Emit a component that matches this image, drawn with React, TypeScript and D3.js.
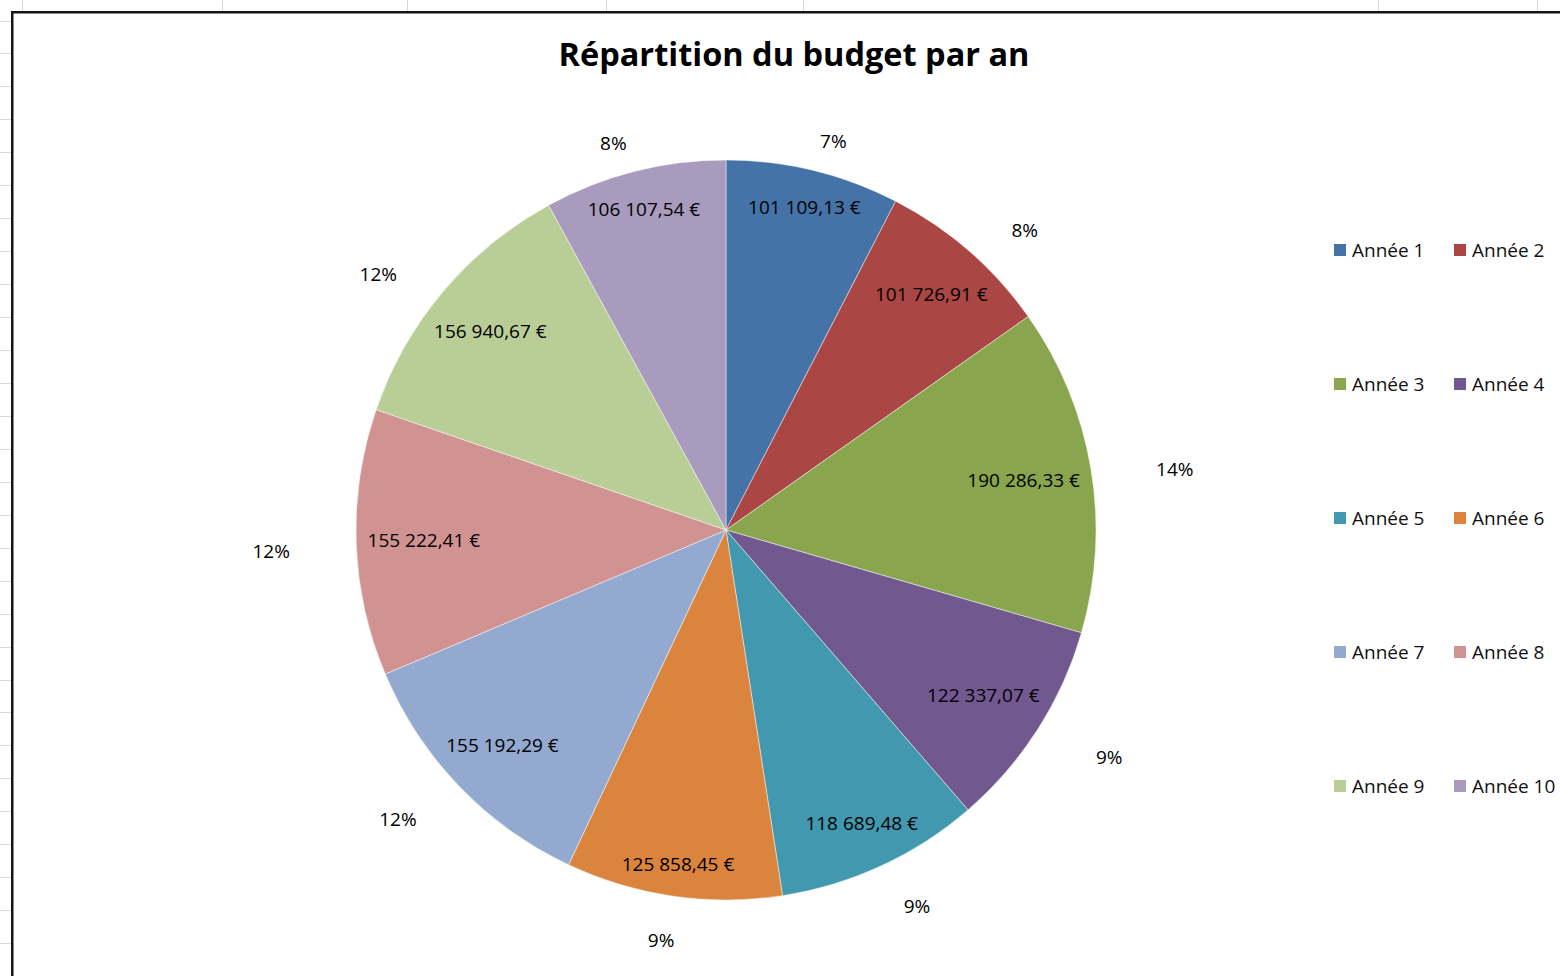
import * as d3 from "d3";
import { useMemo } from "react";

const WIDTH = 1560;
const HEIGHT = 976;

// data
const years = ["Année 1", "Année 2", "Année 3", "Année 4", "Année 5", "Année 6", "Année 7", "Année 8", "Année 9", "Année 10"];
const budget = [101109.13, 101726.91, 190286.33, 122337.07, 118689.48, 125858.45, 155192.29, 155222.41, 156940.67, 106107.54];
const pctLabels = ["7%", "8%", "14%", "9%", "9%", "9%", "12%", "12%", "12%", "8%"];
const colors = ["#4572A7", "#AA4643", "#89A54E", "#71588F", "#4198AF", "#DB843D", "#93A9CF", "#D19392", "#B9CD96", "#A99BBD"];
const title = "Répartition du budget par an";

// spreadsheet grid behind the chart frame
const colLines = [22.5, 222.5, 407.5, 606.5, 803.5, 1378.5, 1537.5];
const ROW_START = 20.5;
const ROW_STEP = 32.95;

const CX = 726;
const CY = 530;
const R = 370;
const FONT = "'Open Sans', 'DejaVu Sans', sans-serif";
const LABEL_SIZE = 19;

const fr = d3.formatLocale({ decimal: ",", thousands: " ", grouping: [3], currency: ["", " €"] });
const fmtEuro = fr.format("$,.2f");

let ctx: CanvasRenderingContext2D | null = null;
const textWidth = (s: string, font: string) => {
  if (!ctx) ctx = document.createElement("canvas").getContext("2d");
  if (!ctx) return s.length * 10;
  ctx.font = font;
  return ctx.measureText(s).width;
};

export default function App() {
  const arcs = useMemo(() => d3.pie<number>().sort(null).value((d) => d)(budget), []);
  const arcGen = d3.arc<d3.PieArcDatum<number>>().innerRadius(0).outerRadius(R);

  const rows = d3.range(0, Math.ceil((HEIGHT - ROW_START) / ROW_STEP)).map((k) => ROW_START + k * ROW_STEP);

  // value labels: "inside end" like Excel, box pushed against the rim
  const valueLabels = arcs.map((a, i) => {
    const txt = fmtEuro(budget[i]);
    const w = textWidth(txt, `${LABEL_SIZE}px ${FONT}`);
    const h = 20;
    const mid = (a.startAngle + a.endAngle) / 2;
    const ux = Math.sin(mid);
    const uy = -Math.cos(mid);
    const cx = Math.sign(ux) * (w / 2);
    const cy = Math.sign(uy) * (h / 2);
    const uc = ux * cx + uy * cy;
    const lim = R - 11;
    const d = -uc + Math.sqrt(uc * uc - (cx * cx + cy * cy) + lim * lim);
    return { txt, x: CX + ux * d, y: CY + uy * d };
  });

  // percentage labels sit on a wider-than-tall ring around the pie
  const pctLabelPos = arcs.map((a) => {
    const mid = (a.startAngle + a.endAngle) / 2;
    return { x: CX + Math.sin(mid) * R * 1.23, y: CY + 7 - Math.cos(mid) * R * 1.1 };
  });

  const legendX = [1334, 1454];
  const legendY = d3.scaleLinear().domain([0, 4]).range([250, 786]);

  return (
    <svg
      width={WIDTH}
      height={HEIGHT}
      style={{ position: "absolute", left: 0, top: 0, background: "#fff" }}
      fontFamily={FONT}
    >
      <rect width={WIDTH} height={HEIGHT} fill="#fff" />
      {colLines.map((x) => (
        <line key={"c" + x} x1={x} x2={x} y1={0} y2={12} stroke="#d8d8d8" strokeWidth={1} />
      ))}
      {rows.map((y) => (
        <line key={"r" + y} x1={0} x2={12} y1={Math.round(y) + 0.5} y2={Math.round(y) + 0.5} stroke="#d8d8d8" strokeWidth={1} />
      ))}
      <path d={`M12.25,${HEIGHT} V12.25 H${WIDTH}`} fill="none" stroke="#151515" strokeWidth={2.5} />

      <text x={794} y={66} textAnchor="middle" fontSize={32.5} fontWeight="bold" fill="#000">
        {title}
      </text>

      <g transform={`translate(${CX},${CY})`}>
        {arcs.map((a, i) => (
          <path key={i} d={arcGen(a) || ""} fill={colors[i]} stroke="#fff" strokeOpacity={0.45} strokeWidth={1} />
        ))}
      </g>

      {pctLabelPos.map((p, i) => (
        <text key={"p" + i} x={p.x} y={p.y} textAnchor="middle" dominantBaseline="central" fontSize={LABEL_SIZE} fill="#000">
          {pctLabels[i]}
        </text>
      ))}

      {valueLabels.map((l, i) => (
        <text key={"v" + i} x={l.x} y={l.y} textAnchor="middle" dominantBaseline="central" fontSize={LABEL_SIZE} fill="#000">
          {l.txt}
        </text>
      ))}

      {years.map((name, i) => {
        const x = legendX[i % 2];
        const y = legendY(Math.floor(i / 2));
        return (
          <g key={name}>
            <rect x={x} y={y - 6} width={12} height={12} fill={colors[i]} />
            <text x={x + 18} y={y} dominantBaseline="central" fontSize={LABEL_SIZE} fill="#111">
              {name}
            </text>
          </g>
        );
      })}
    </svg>
  );
}
